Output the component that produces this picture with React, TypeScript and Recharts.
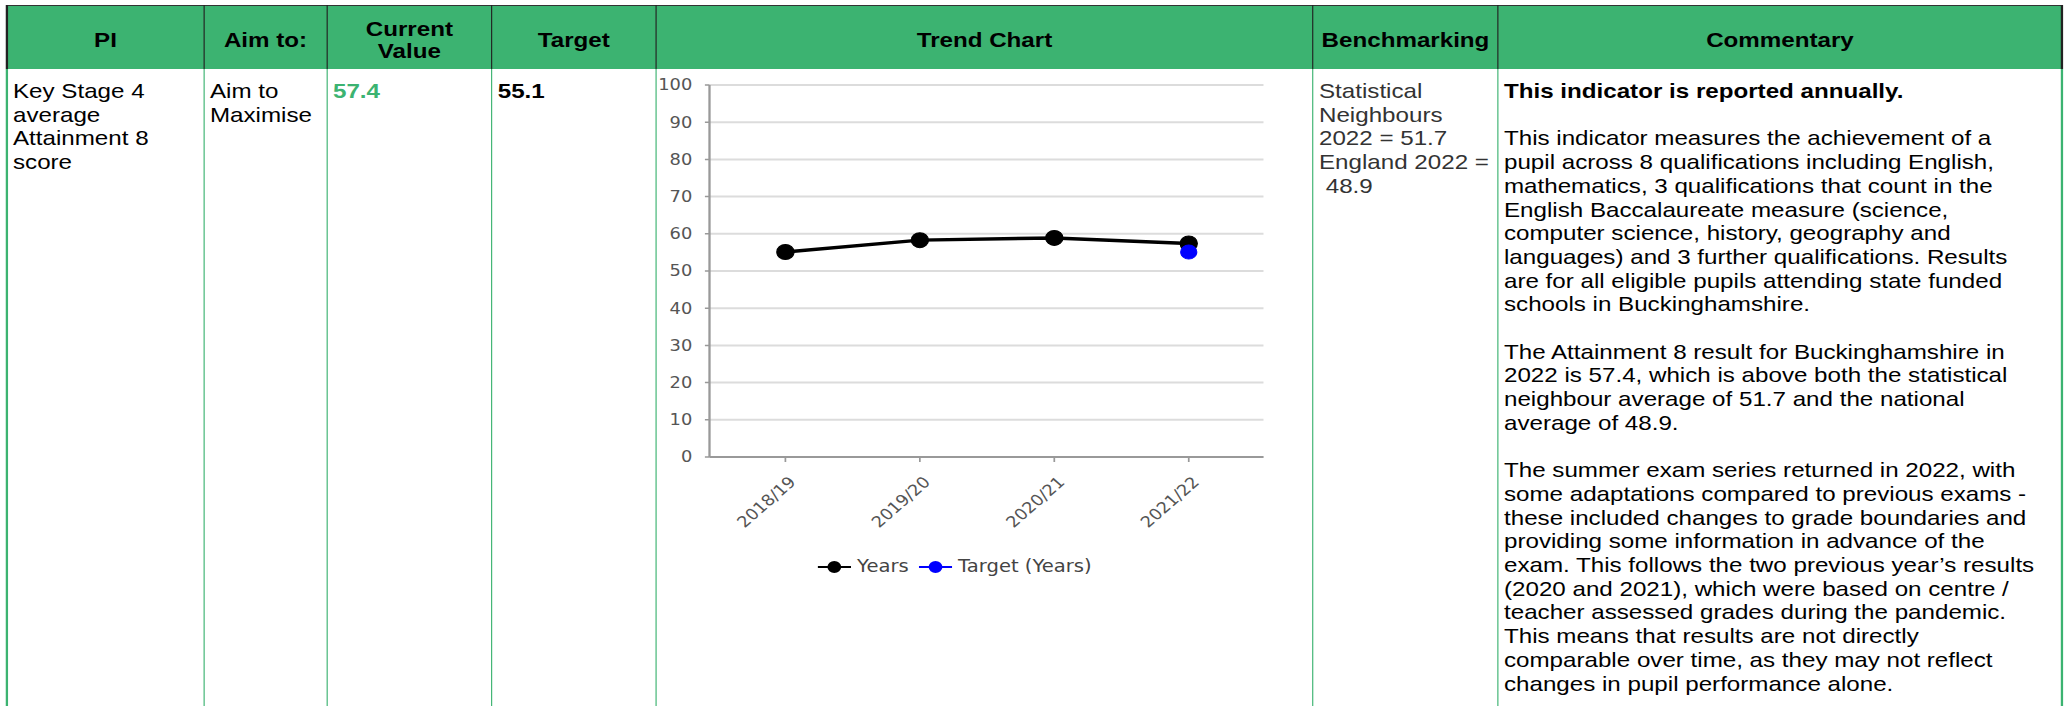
import { CartesianGrid, Legend, Line, LineChart, XAxis, YAxis } from "recharts";

// Trend chart values
const years = ["2018/19", "2019/20", "2020/21", "2021/22"];
const yearResults = [55.1, 58.3, 58.9, 57.4];
const yearTargets: (number | null)[] = [null, null, null, 55.1];
const valueTicks = [0, 10, 20, 30, 40, 50, 60, 70, 80, 90, 100];

// Table text
const headers = ["PI", "Aim to:", "Current\nValue", "Target", "Trend Chart", "Benchmarking", "Commentary"];
const piName = ["Key Stage 4", "average", "Attainment 8", "score"];
const aimText = ["Aim to", "Maximise"];
const benchmarkLines = ["Statistical", "Neighbours", "2022 = 51.7", "England 2022 =", " 48.9"];
const commentaryLead = "This indicator is reported annually.";
const commentaryParagraphs = [
  [
    "This indicator measures the achievement of a",
    "pupil across 8 qualifications including English,",
    "mathematics, 3 qualifications that count in the",
    "English Baccalaureate measure (science,",
    "computer science, history, geography and",
    "languages) and 3 further qualifications. Results",
    "are for all eligible pupils attending state funded",
    "schools in Buckinghamshire.",
  ],
  [
    "The Attainment 8 result for Buckinghamshire in",
    "2022 is 57.4, which is above both the statistical",
    "neighbour average of 51.7 and the national",
    "average of 48.9.",
  ],
  [
    "The summer exam series returned in 2022, with",
    "some adaptations compared to previous exams -",
    "these included changes to grade boundaries and",
    "providing some information in advance of the",
    "exam. This follows the two previous year\u2019s results",
    "(2020 and 2021), which were based on centre /",
    "teacher assessed grades during the pandemic.",
    "This means that results are not directly",
    "comparable over time, as they may not reflect",
    "changes in pupil performance alone.",
  ],
];

const chartData = years.map((year, i) => ({ year, result: yearResults[i], target: yearTargets[i] }));
const currentValue = yearResults[yearResults.length - 1];
const targetValue = yearTargets[yearTargets.length - 1];

// the report is laid out narrow and then widened horizontally
const SX = 1.15;
const px = (v: number) => v / SX;

const GREEN = "#3cb371";
const bodyFont = '"Liberation Sans", Arial, sans-serif';
const chartFont = '"DejaVu Sans", Verdana, sans-serif';

const edges = [7, 204, 327, 491.7, 656, 1313, 1498, 2062];
const HEAD_TOP = 5;
const HEAD_BOTTOM = 69;
const BODY_TOP = 79;

const CHART_LEFT = 656;
const CHART_TOP = 70;
const CHART_W = px(1313 - 656);
const CHART_H = 530;
const PLOT_LEFT = px(710 - 656);
const PLOT_RIGHT = px(1264 - 656);

function YearTick({ x, y, payload }: any) {
  const ax = x + 10;
  const ay = y + 21;
  return (
    <text
      x={ax}
      y={ay}
      transform={`rotate(-45 ${ax} ${ay})`}
      textAnchor="end"
      fill="#555"
      fontSize={15.5}
      fontFamily={chartFont}
    >
      {payload.value}
    </text>
  );
}

function TrendLegend({ payload }: any) {
  return (
    <div style={{ display: "flex", alignItems: "center", height: 20, fontFamily: chartFont, fontSize: 17, color: "#444", whiteSpace: "nowrap" }}>
      {(payload || []).map((item: any) => (
        <span key={item.value} style={{ display: "flex", alignItems: "center", marginRight: 9 }}>
          <svg width={29} height={14}>
            <line x1={0} y1={7} x2={29} y2={7} stroke={item.color} strokeWidth={2} />
            <circle cx={14.5} cy={7} r={6} fill={item.color} />
          </svg>
          <span style={{ marginLeft: 5 }}>{item.value}</span>
        </span>
      ))}
    </div>
  );
}

function TrendChart() {
  return (
    <LineChart
      width={CHART_W}
      height={CHART_H}
      data={chartData}
      margin={{ top: 15, right: CHART_W - PLOT_RIGHT, bottom: 83, left: 0 }}
    >
      <CartesianGrid vertical={false} stroke="#dcdcdc" strokeWidth={2} />
      <XAxis
        dataKey="year"
        scale="point"
        padding={{ left: 66, right: 65 }}
        height={60}
        interval={0}
        tickSize={5}
        tickMargin={0}
        axisLine={{ stroke: "#999", strokeWidth: 2 }}
        tickLine={{ stroke: "#999", strokeWidth: 1.5 }}
        tick={(props: any) => <YearTick {...props} />}
      />
      <YAxis
        width={PLOT_LEFT}
        domain={[0, 100]}
        ticks={valueTicks}
        interval={0}
        tickSize={4}
        tickMargin={11}
        axisLine={{ stroke: "#999", strokeWidth: 2 }}
        tickLine={{ stroke: "#999", strokeWidth: 1.5 }}
        tick={{ fill: "#555", fontSize: 15.5, fontFamily: chartFont }}
      />
      <Legend
        layout="horizontal"
        verticalAlign="middle"
        align="center"
        itemSorter="dataKey"
        content={(props: any) => <TrendLegend payload={props.payload} />}
        wrapperStyle={{ left: px(818 - 656), top: 487, width: "auto" }}
      />
      <Line
        dataKey="result"
        name="Years"
        stroke="#000"
        strokeWidth={3.5}
        dot={{ r: 7.5, fill: "#000", stroke: "#000", strokeWidth: 1 }}
        activeDot={false}
        isAnimationActive={false}
      />
      <Line
        dataKey="target"
        name="Target (Years)"
        stroke="#0000ff"
        strokeWidth={2}
        dot={{ r: 7, fill: "#0000ff", stroke: "#0000ff", strokeWidth: 1 }}
        activeDot={false}
        isAnimationActive={false}
      />
    </LineChart>
  );
}

function Cell({ col, children, style }: { col: number; children: any; style?: any }) {
  return (
    <div
      style={{
        position: "absolute",
        left: px(edges[col] + 6),
        top: BODY_TOP,
        whiteSpace: "pre",
        ...style,
      }}
    >
      {children}
    </div>
  );
}

const lines = (arr: string[]) => arr.map((l, i) => <div key={i}>{l}</div>);

export default function App() {
  return (
    <div style={{ position: "fixed", left: 0, top: 0, width: 2069, height: 706, overflow: "hidden", background: "#fff" }}>
      <div
        style={{
          position: "absolute",
          left: 0,
          top: 0,
          width: 2069 / SX,
          height: 706,
          transform: `scaleX(${SX})`,
          transformOrigin: "0 0",
          fontFamily: bodyFont,
          fontSize: 21,
          lineHeight: "23.7px",
          color: "#000",
        }}
      >
        {/* header band */}
        <div
          style={{
            position: "absolute",
            left: px(edges[0]),
            top: HEAD_TOP,
            width: px(edges[7] - edges[0]),
            height: HEAD_BOTTOM - HEAD_TOP,
            background: GREEN,
            borderTop: "1.5px solid #333",
            boxSizing: "border-box",
          }}
        />
        {headers.map((h, i) => (
          <div
            key={h}
            style={{
              position: "absolute",
              left: px(edges[i]),
              top: HEAD_TOP,
              width: px(edges[i + 1] - edges[i]),
              height: HEAD_BOTTOM - HEAD_TOP,
              display: "flex",
              alignItems: "center",
              justifyContent: "center",
              textAlign: "center",
              whiteSpace: "pre",
              fontWeight: "bold",
              lineHeight: "22px",
              paddingTop: 6,
              boxSizing: "border-box",
            }}
          >
            {h}
          </div>
        ))}

        {/* column rules */}
        {edges.map((x, i) => (
          <div key={"h" + i} style={{ position: "absolute", left: px(x) - 0.65, top: HEAD_TOP, width: 1.3, height: HEAD_BOTTOM - HEAD_TOP, background: "#222" }} />
        ))}
        {edges.map((x, i) => (
          <div key={"b" + i} style={{ position: "absolute", left: px(x) - 0.65, top: HEAD_BOTTOM, width: 1.3, height: 706 - HEAD_BOTTOM, background: GREEN }} />
        ))}

        <Cell col={0}>{lines(piName)}</Cell>
        <Cell col={1}>{lines(aimText)}</Cell>
        <Cell col={2} style={{ fontWeight: "bold", color: GREEN }}>{currentValue.toFixed(1)}</Cell>
        <Cell col={3} style={{ fontWeight: "bold" }}>{targetValue?.toFixed(1)}</Cell>
        <Cell col={5} style={{ color: "#333" }}>{lines(benchmarkLines)}</Cell>
        <Cell col={6}>
          <div style={{ fontWeight: "bold" }}>{commentaryLead}</div>
          {commentaryParagraphs.map((p, i) => (
            <div key={i} style={{ marginTop: 23.7 }}>{lines(p)}</div>
          ))}
        </Cell>

        <div style={{ position: "absolute", left: px(CHART_LEFT), top: CHART_TOP }}>
          <TrendChart />
        </div>
      </div>
    </div>
  );
}
